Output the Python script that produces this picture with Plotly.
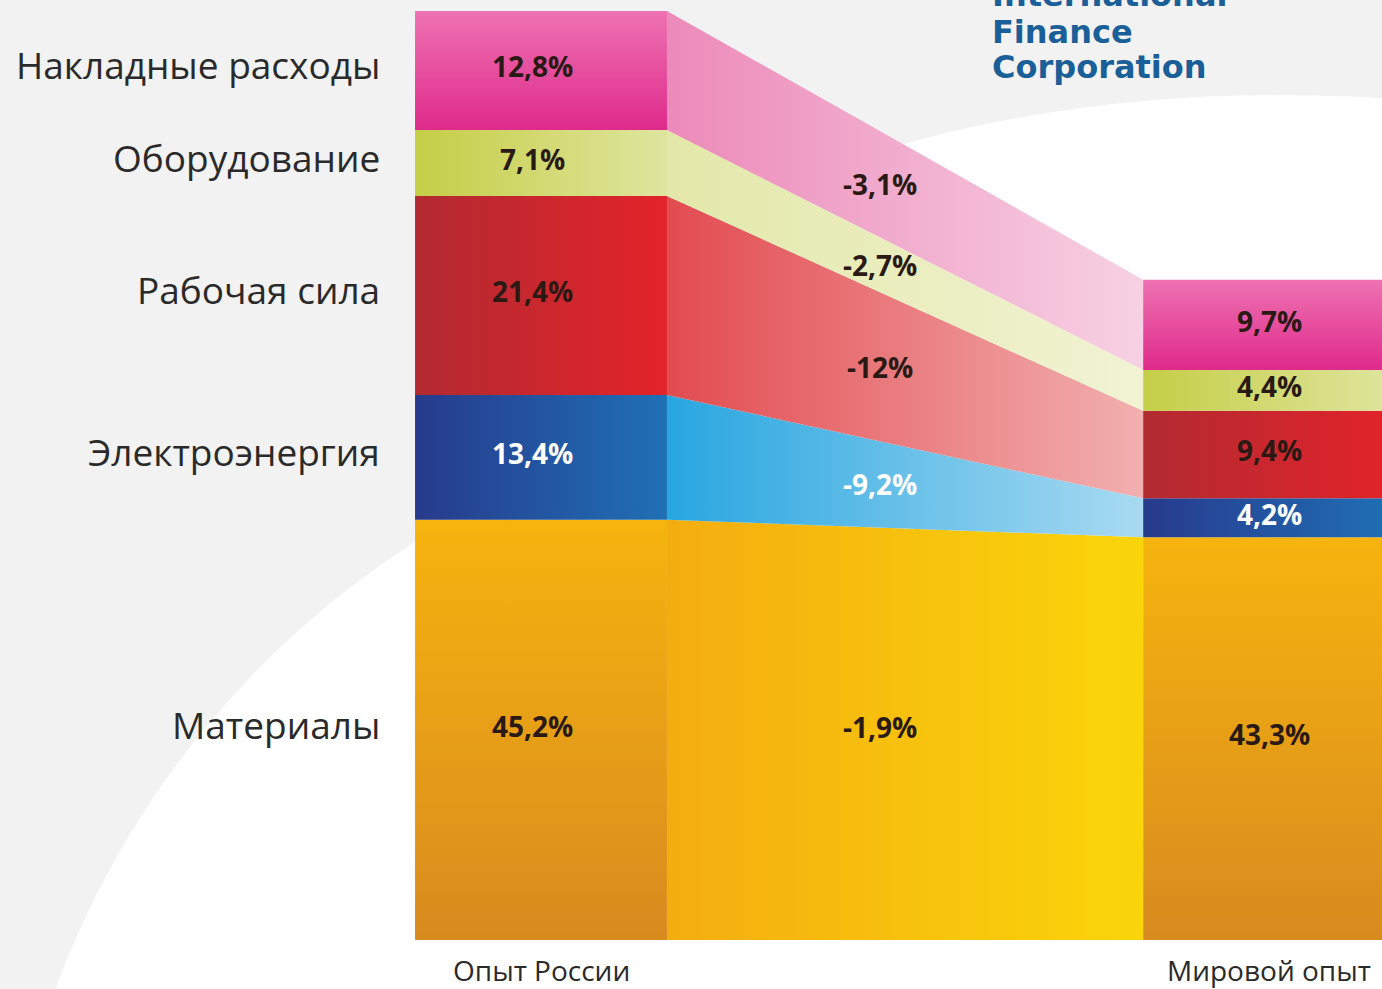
import plotly.graph_objects as go

# ---------------- data ----------------
categories = ["Материалы", "Электроэнергия", "Рабочая сила", "Оборудование", "Накладные расходы"]
russia = [45.2, 13.4, 21.4, 7.1, 12.8]
world = [43.3, 4.2, 9.4, 4.4, 9.7]
diffs = [-1.9, -9.2, -12, -2.7, -3.1]
group_labels = ["Опыт России", "Мировой опыт"]
logo_lines = ["International", "Finance", "Corporation"]

# ---------------- styles ----------------
bar_grad = [  # (type, c_start, c_stop)  vertical: start = top
    ("vertical", "#f6b40e", "#d98a1f"),
    ("horizontal", "#273a8c", "#1f70b6"),
    ("horizontal", "#b22a31", "#e3232a"),
    ("horizontal", "#c5ce46", "#dfe59e"),
    ("vertical", "#ee72b2", "#df2a8b"),
]
band_grad = [
    ("#f4ad10", "#fad50a"),
    ("#28a6e0", "#a8daf1"),
    ("#e24b50", "#f2b0b0"),
    ("#e3e8a9", "#f1f3d3"),
    ("#ec8ab9", "#f7d1e3"),
]
label_colors = ["#2b1a14", "#ffffff", "#2b1a14", "#2b1a14", "#2b1a14"]

HALF = 0.173          # half bar width (x units, bars at x=0 and x=1)
FONT = "Open Sans"
LIFT = 0.45           # small upward offset of value labels

fig = go.Figure()


def cum(vals):
    out, s = [], 0.0
    for v in vals:
        out.append((s, s + v))
        s += v
    return out


r_seg = cum(russia)
w_seg = cum(world)


def fmt(v):
    return f"{v:g}".replace(".", ",") + "%"


def add_rect(xc, bot, top, g):
    typ, c0, c1 = g
    if typ == "vertical":
        grad = dict(type="vertical", start=top, stop=bot, colorscale=[[0, c0], [1, c1]])
    else:
        grad = dict(type="horizontal", start=xc - HALF, stop=xc + HALF, colorscale=[[0, c0], [1, c1]])
    fig.add_trace(go.Scatter(
        x=[xc - HALF, xc + HALF, xc + HALF, xc - HALF, xc - HALF],
        y=[bot, bot, top, top, bot],
        fill="toself", fillgradient=grad, mode="lines",
        line=dict(width=0), hoverinfo="skip", showlegend=False))


# bands between bars
x1, x2 = HALF, 1 - HALF
for i in range(len(categories)):
    rb, rt = r_seg[i]
    wb, wt = w_seg[i]
    c0, c1 = band_grad[i]
    fig.add_trace(go.Scatter(
        x=[x1, x2, x2, x1, x1], y=[rb, wb, wt, rt, rb],
        fill="toself",
        fillgradient=dict(type="horizontal", start=x1, stop=x2, colorscale=[[0, c0], [1, c1]]),
        mode="lines", line=dict(width=0), hoverinfo="skip", showlegend=False))

# bars
for i in range(len(categories)):
    add_rect(0, r_seg[i][0], r_seg[i][1], bar_grad[i])
    add_rect(1, w_seg[i][0], w_seg[i][1], bar_grad[i])

annotations = []
XM = 0.466
for i, cat in enumerate(categories):
    rb, rt = r_seg[i]
    wb, wt = w_seg[i]
    rc = (rb + rt) / 2
    wc = (wb + wt) / 2
    annotations.append(dict(x=-0.219, y=rc + 0.6, text=cat, xanchor="right", yanchor="middle",
                            showarrow=False, font=dict(family=FONT, size=37, color="#2a2a2a")))
    annotations.append(dict(x=-0.011, y=rc + LIFT, text=fmt(russia[i]), showarrow=False,
                            font=dict(family=FONT, size=28, color=label_colors[i], weight="bold")))
    annotations.append(dict(x=1.0, y=wc + LIFT, text=fmt(world[i]), showarrow=False,
                            font=dict(family=FONT, size=28, color=label_colors[i], weight="bold")))
    t = (XM - x1) / (x2 - x1)
    bb = rb + (wb - rb) * t
    bt = rt + (wt - rt) * t
    mid = (bb + bt) / 2
    if i == 0:
        mid += 0.7
    annotations.append(dict(x=XM, y=mid, text=fmt(diffs[i]), showarrow=False,
                            font=dict(family=FONT, size=28, color=label_colors[i], weight="bold")))

for xg, lab in zip([0, 1.0], group_labels):
    annotations.append(dict(x=xg, y=-3.25, text=lab, showarrow=False, yanchor="middle",
                            font=dict(family=FONT, size=28, color="#2a2a2a")))

for line, py in zip(logo_lines, [-5, 32, 67]):
    annotations.append(dict(xref="paper", yref="paper", x=990 / 1382, y=1 - py / 989,
                            text=line, xanchor="left", yanchor="middle", showarrow=False,
                            font=dict(family="DejaVu Sans", size=32, color="#1a5f98", weight="bold")))

shapes = [
    dict(type="circle", xref="paper", yref="paper", layer="below",
         x0=0.0, x1=1800 / 1382, y0=1 - 2200 / 989, y1=1 - 400 / 989,
         fillcolor="white", line=dict(width=0)),
    dict(type="circle", xref="paper", yref="paper", layer="below",
         x0=560 / 1382, x1=2000 / 1382, y0=1 - 760 / 989, y1=1 - 95 / 989,
         fillcolor="white", line=dict(width=0)),
]

fig.update_layout(
    width=1382, height=989,
    margin=dict(l=0, r=0, t=0, b=0),
    paper_bgcolor="#f2f2f2", plot_bgcolor="rgba(0,0,0,0)",
    xaxis=dict(range=[-0.743, 1.155], visible=False, fixedrange=True),
    yaxis=dict(range=[-5.27, 101.08], visible=False, fixedrange=True),
    annotations=annotations, shapes=shapes, showlegend=False,
)

fig.write_html("out.html", config={"displayModeBar": False},
               post_script="document.body.style.margin='0px';document.body.style.overflow='hidden';")
